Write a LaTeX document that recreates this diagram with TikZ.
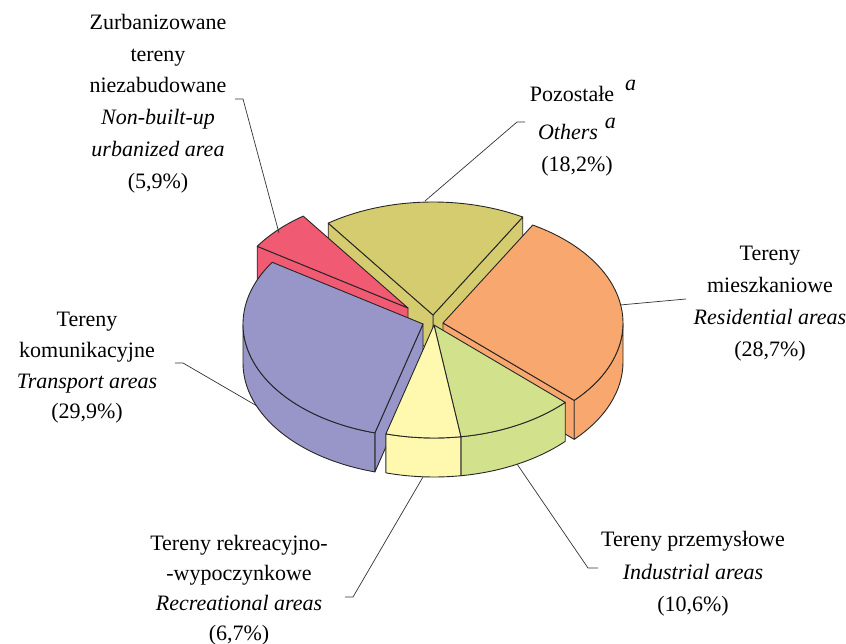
\documentclass[tikz,border=0pt]{standalone}
\usepackage{fontspec}
\setmainfont{Liberation Serif}
\definecolor{cOlive}{RGB}{213,204,112}
\definecolor{cRed}{RGB}{240,90,115}
\definecolor{cOrange}{RGB}{248,168,110}
\definecolor{cGreen}{RGB}{210,225,140}
\definecolor{cYellow}{RGB}{255,248,175}
\definecolor{cPurple}{RGB}{152,150,200}
\def\pcx{434}\def\pcy{-325}\def\prx{180}\def\pry{113}\def\pieh{39}
% #1,#2 offset; #3 start; #4 end; #5 colour
\newcommand\pietop[5]{%
  \filldraw[slice,fill=#5] ({\pcx+#1},{\pcy+#2}) -- ({\pcx+#1+\prx*cos(#3)},{\pcy+#2+\pry*sin(#3)})
    arc[start angle=#3,end angle=#4,x radius=\prx pt,y radius=\pry pt] -- cycle;}
\newcommand\pieside[5]{%
  \filldraw[slice,fill=#5] ({\pcx+#1+\prx*cos(#3)},{\pcy+#2+\pry*sin(#3)})
    arc[start angle=#3,end angle=#4,x radius=\prx pt,y radius=\pry pt] -- ++(0,-\pieh)
    arc[start angle=#4,end angle=#3,x radius=\prx pt,y radius=\pry pt] -- cycle;}
\newcommand\pierad[4]{%
  \filldraw[slice,fill=#4] ({\pcx+#1},{\pcy+#2}) -- ({\pcx+#1+\prx*cos(#3)},{\pcy+#2+\pry*sin(#3)})
    -- ++(0,-\pieh) -- ({\pcx+#1},{\pcy+#2-\pieh}) -- cycle;}
\tikzset{
  slice/.style={draw=black!85,line width=0.9pt,line join=round},
  leader/.style={draw=black!80,line width=0.7pt},
  lab/.style={align=center,inner sep=0pt,font=\fontsize{22}{#1}\selectfont},
  lab/.default=31.7
}
\begin{document}
\begin{tikzpicture}[x=1pt,y=1pt]
\useasboundingbox (0,0) rectangle (846,-644);
% Others (olive)
\pierad{-1}{10}{60.1}{cOlive}
\pierad{-1}{10}{125.6}{cOlive}
\pietop{-1}{10}{60.1}{125.6}{cOlive}
% Non-built-up (red)
\pierad{-26}{17}{146.9}{cRed}
\pietop{-26}{17}{125.6}{146.9}{cRed}
% Residential (orange)
\pierad{9}{2}{-43.2}{cOrange}
\pieside{9}{2}{-43.2}{0}{cOrange}
\pietop{9}{2}{-43.2}{60.1}{cOrange}
% Transport (purple)
\pierad{-11}{1}{254.5}{cPurple}
\pieside{-11}{1}{180}{254.5}{cPurple}
\pietop{-11}{1}{146.9}{254.5}{cPurple}
% Industrial (green)
\pieside{0}{0}{-81.4}{-43.2}{cGreen}
\pietop{0}{0}{-81.4}{-43.2}{cGreen}
% Recreational (yellow)
\pieside{0}{0}{-105.5}{-81.4}{cYellow}
\pietop{0}{0}{-105.5}{-81.4}{cYellow}

% labels
\node[lab] (lnb) at (158,-103.5) {Zurbanizowane\\tereny\\niezabudowane\\\textit{Non-built-up}\\\textit{urbanized area}\\(5,9\%)};
\node[lab] (lot) at (577,-127.7) {\hspace*{12pt}Pozostałe\hspace{11pt}\raisebox{11pt}{\itshape a}\\[6.6pt]\textit{Others}\hspace{7pt}\raisebox{11pt}{\itshape a}\\(18,2\%)};
\node[lab=32] (lres) at (770,-304) {Tereny\\mieszkaniowe\\\textit{Residential areas}\\(28,7\%)};
\node[lab=30.7] (ltr) at (87,-368) {Tereny\\komunikacyjne\\\textit{Transport areas}\\(29,9\%)};
\node[lab=30] (lrec) at (239,-590) {Tereny rekreacyjno-\\-wypoczynkowe\\\textit{Recreational areas}\\(6,7\%)};
\node[lab=32.3] (lind) at (693,-574) {Tereny przemysłowe\\\textit{Industrial areas}\\(10,6\%)};

% leader lines
\coordinate (nbA) at (235,-99);  \coordinate (nbB) at (243,-99);  \coordinate (nbC) at (279,-233);
\coordinate (otA) at (525,-122); \coordinate (otB) at (517,-122); \coordinate (otC) at (425,-201);
\coordinate (reA) at (686,-299); \coordinate (reC) at (620,-305);
\coordinate (trA) at (175,-363); \coordinate (trB) at (183,-363); \coordinate (trC) at (257,-406);
\coordinate (rcA) at (345,-597); \coordinate (rcB) at (353,-597); \coordinate (rcC) at (423,-477);
\coordinate (inA) at (598,-568); \coordinate (inB) at (588,-568); \coordinate (inC) at (517,-464);
\draw[leader] (nbA) -- (nbB) -- (nbC);
\draw[leader] (otA) -- (otB) -- (otC);
\draw[leader] (reA) -- (reC);
\draw[leader] (trA) -- (trB) -- (trC);
\draw[leader] (rcA) -- (rcB) -- (rcC);
\draw[leader] (inA) -- (inB) -- (inC);
\end{tikzpicture}
\end{document}
